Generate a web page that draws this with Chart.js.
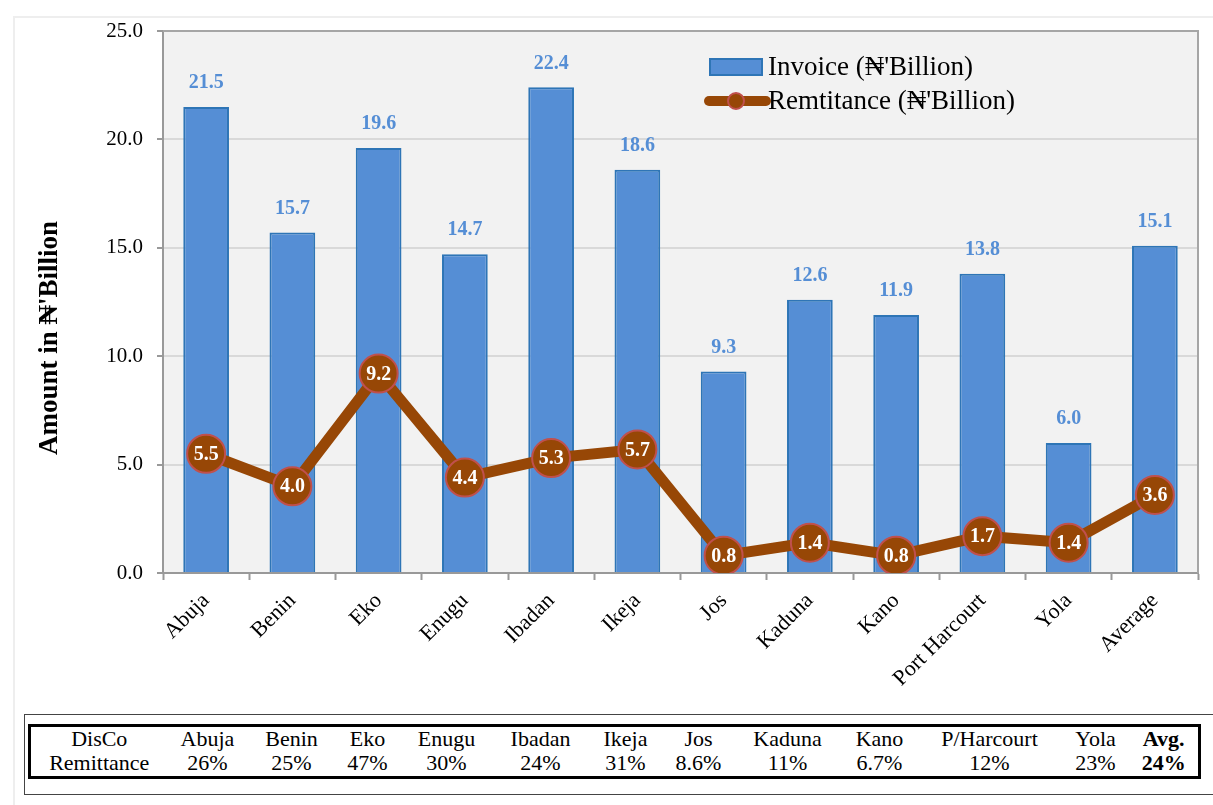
<!DOCTYPE html>
<html>
<head>
<meta charset="utf-8">
<title>DisCo invoice and remittance</title>
<script src="https://cdn.jsdelivr.net/npm/chart.js@4.4.0/dist/chart.umd.min.js"></script>
<style>
  body { margin: 0; background: #fff; font-family: "Liberation Serif", "DejaVu Serif", serif; }
  #wrap { position: relative; width: 1213px; height: 805px; overflow: hidden; }
  #frame { position: absolute; left: 13px; top: 16px; width: 1220px; height: 800px;
           border-left: 2px solid #eeeeee; border-top: 2px solid #eeeeee; }
  #chartBox { position: absolute; left: 0; top: 0; width: 1213px; height: 705px; }
  #tblOuter { position: absolute; left: 24px; top: 714px; width: 1200px; height: 81px;
              border: 1px solid #444; box-sizing: border-box; }
  #share { position: absolute; left: 28px; top: 724px; border: 3px solid #000;
           border-collapse: collapse; font-size: 22px; color: #000; table-layout: fixed; }
  #share td { text-align: center; padding: 0; line-height: 24px; white-space: nowrap; }
  #share tr:first-child td { padding-top: 1px; }
  #share tr:last-child td { padding-bottom: 1px; }
  #share td.avg { font-weight: bold; }
</style>
</head>
<body>
<div id="wrap">
  <div id="frame"></div>
  <div id="chartBox"><canvas id="myChart" width="1213" height="705"></canvas></div>
  <div id="tblOuter"></div>
  <table id="share"></table>
</div>
<script>
// DisCo figures, in billions of naira
const disCos = ['Abuja', 'Benin', 'Eko', 'Enugu', 'Ibadan', 'Ikeja', 'Jos', 'Kaduna', 'Kano', 'Port Harcourt', 'Yola', 'Average'];
const invoice = [21.5, 15.7, 19.6, 14.7, 22.4, 18.6, 9.3, 12.6, 11.9, 13.8, 6.0, 15.1];
const remittance = [5.5, 4.0, 9.2, 4.4, 5.3, 5.7, 0.8, 1.4, 0.8, 1.7, 1.4, 3.6];
const yMin = 0, yMax = 25, yStep = 5;
const yTitle = "Amount in \u20A6'Billion";

// remittance share table under the chart
const shareNames = ['Abuja', 'Benin', 'Eko', 'Enugu', 'Ibadan', 'Ikeja', 'Jos', 'Kaduna', 'Kano', 'P/Harcourt', 'Yola', 'Avg.'];
const shareValues = ['26%', '25%', '47%', '30%', '24%', '31%', '8.6%', '11%', '6.7%', '12%', '23%', '24%'];
const shareColWidths = [138, 80, 88, 64, 94, 94, 76, 70, 108, 76, 144, 68, 70];

const serif = '"Liberation Serif", "DejaVu Serif", serif';
const barBlue = '#558ed5';
const brown = '#974706';

function buildTable() {
  const tbl = document.getElementById('share');
  const cg = document.createElement('colgroup');
  shareColWidths.forEach(function(w) {
    const c = document.createElement('col');
    c.style.width = w + 'px';
    cg.appendChild(c);
  });
  tbl.appendChild(cg);
  const rows = [['DisCo'].concat(shareNames), ['Remittance'].concat(shareValues)];
  rows.forEach(function(r) {
    const tr = document.createElement('tr');
    r.forEach(function(txt, i) {
      const td = document.createElement('td');
      td.textContent = txt;
      if (i === r.length - 1) td.className = 'avg';
      tr.appendChild(td);
    });
    tbl.appendChild(tr);
  });
}

// grey plot background, frame on top and right, and the y title
const plotArea = {
  id: 'plotArea',
  beforeDraw(chart) {
    const a = chart.chartArea, ctx = chart.ctx;
    ctx.save();
    ctx.fillStyle = '#f2f2f2';
    ctx.fillRect(a.left, a.top, a.right - a.left, a.bottom - a.top);
    ctx.restore();
  },
  afterDraw(chart) {
    const a = chart.chartArea, ctx = chart.ctx;
    ctx.save();
    ctx.strokeStyle = '#a6a6a6';
    ctx.lineWidth = 2;
    ctx.beginPath();
    ctx.moveTo(a.left, a.top);
    ctx.lineTo(a.right, a.top);
    ctx.lineTo(a.right, a.bottom);
    ctx.stroke();

    // axis title sits a bit below the middle of the axis
    ctx.translate(50, 338);
    ctx.rotate(-Math.PI / 2);
    ctx.fillStyle = '#000';
    ctx.font = 'bold 27px ' + serif;
    ctx.textAlign = 'center';
    ctx.textBaseline = 'middle';
    ctx.fillText(yTitle, 0, 0);
    ctx.restore();
  }
};

// numbers over the bars and inside the line markers
const valueLabels = {
  id: 'valueLabels',
  afterDatasetsDraw(chart) {
    const ctx = chart.ctx;
    ctx.save();
    ctx.textAlign = 'center';
    ctx.font = 'bold 20px ' + serif;
    chart.getDatasetMeta(0).data.forEach(function(el, i) {
      ctx.fillStyle = barBlue;
      ctx.textBaseline = 'bottom';
      ctx.fillText(invoice[i].toFixed(1), el.x, el.y - 14);
    });
    chart.getDatasetMeta(1).data.forEach(function(el, i) {
      ctx.fillStyle = '#ffffff';
      ctx.textBaseline = 'middle';
      ctx.fillText(remittance[i].toFixed(1), el.x, el.y + 1);
    });
    ctx.restore();
  }
};

// legend sitting inside the plot, top right
const innerLegend = {
  id: 'innerLegend',
  afterDraw(chart) {
    const ctx = chart.ctx;
    const x0 = 710, y1 = 67, y2 = 101;
    ctx.save();
    ctx.fillStyle = barBlue;
    ctx.fillRect(x0, y1 - 8, 52, 16);
    ctx.strokeStyle = '#2e75b6';
    ctx.lineWidth = 2;
    ctx.strokeRect(x0, y1 - 8, 52, 16);

    ctx.strokeStyle = brown;
    ctx.lineWidth = 10;
    ctx.lineCap = 'round';
    ctx.beginPath();
    ctx.moveTo(x0 - 1, y2);
    ctx.lineTo(x0 + 56, y2);
    ctx.stroke();
    ctx.beginPath();
    ctx.arc(x0 + 26, y2, 8, 0, Math.PI * 2);
    ctx.fillStyle = brown;
    ctx.fill();
    ctx.lineWidth = 2;
    ctx.strokeStyle = '#c0504d';
    ctx.stroke();

    ctx.fillStyle = '#000';
    ctx.font = '27px ' + serif;
    ctx.textAlign = 'left';
    ctx.textBaseline = 'middle';
    ctx.fillText(chart.data.datasets[0].label, x0 + 58, y1 + 1);
    ctx.fillText(chart.data.datasets[1].label, x0 + 58, y2 + 1);
    ctx.restore();
  }
};

function drawChart() {
  const ctx = document.getElementById('myChart').getContext('2d');
  const chart = new Chart(ctx, {
    type: 'bar',
    data: {
      labels: disCos,
      datasets: [{
        type: 'bar',
        label: "Invoice (\u20A6'Billion)",
        data: invoice,
        backgroundColor: barBlue,
        borderColor: '#2e75b6',
        borderWidth: 2,
        borderSkipped: 'bottom',
        barPercentage: 0.53,
        categoryPercentage: 1.0,
        order: 2
      }, {
        type: 'line',
        label: "Remtitance (\u20A6'Billion)",
        data: remittance,
        borderColor: brown,
        borderWidth: 11,
        backgroundColor: brown,
        pointRadius: 19,
        pointBackgroundColor: brown,
        pointBorderColor: '#c0504d',
        pointBorderWidth: 2,
        tension: 0,
        order: 1
      }]
    },
    options: {
      responsive: false,
      animation: false,
      layout: { autoPadding: false, padding: { top: 31, right: 15, left: 0, bottom: 0 } },
      plugins: {
        legend: { display: false },
        tooltip: { enabled: false }
      },
      scales: {
        x: {
          grid: { offset: true, drawOnChartArea: false, drawTicks: true, tickLength: 7, tickColor: '#999', tickWidth: 2 },
          border: { color: '#999', width: 2 },
          ticks: { color: '#000', font: { family: serif, size: 22 }, minRotation: 45, maxRotation: 45, padding: 8 },
          afterFit(s) { s.height = 132; }
        },
        y: {
          min: yMin, max: yMax,
          grid: { color: '#d9d9d9', lineWidth: 2, tickLength: 6, tickColor: '#999', tickWidth: 2 },
          border: { color: '#999', width: 2 },
          ticks: {
            stepSize: yStep, color: '#000', padding: 14,
            font: { family: serif, size: 21 },
            callback: function(v) { return v.toFixed(1); }
          },
          afterFit(s) { s.width = 163; }
        }
      }
    },
    plugins: [plotArea, valueLabels, innerLegend]
  });
}

buildTable();
drawChart();
</script>
</body>
</html>
